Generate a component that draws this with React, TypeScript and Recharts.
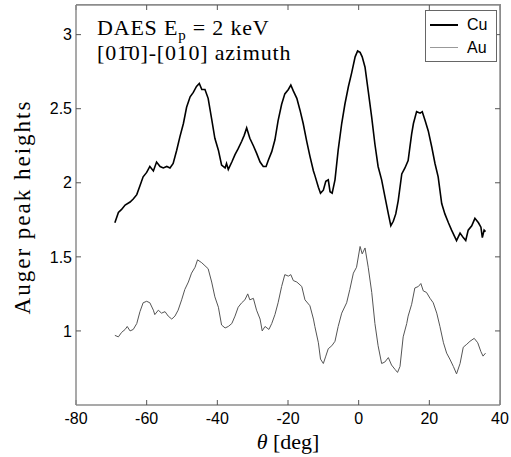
import { LineChart, Line, XAxis, YAxis } from "recharts";

const cuTheta = [
  -69.0, -68.0, -67.1, -66.1, -64.7, -63.8, -62.8, -61.9, -61.0, -60.0, -59.1, -58.1, -57.2, -56.2,
  -55.3, -54.3, -53.4, -52.5, -51.5, -50.6, -49.6, -48.7, -47.7, -46.8, -45.9, -45.1, -44.4, -43.5,
  -42.6, -41.6, -40.7, -39.7, -38.8, -37.8, -37.4, -36.9, -35.9, -35.0, -34.1, -33.1, -32.4, -31.7,
  -30.8, -29.8, -28.9, -27.9, -27.0, -26.2, -25.6, -24.6, -23.7, -22.8, -21.8, -20.9, -19.9, -19.2,
  -18.5, -17.5, -16.6, -15.7, -14.7, -13.8, -12.8, -12.4, -11.4, -10.8, -10.0, -9.3, -8.6, -8.1,
  -7.5, -6.7, -5.8, -4.8, -3.9, -2.9, -2.0, -1.0, -0.3, 0.4, 1.0, 1.8, 2.7, 3.7, 4.6, 5.5, 6.5, 7.4,
  8.4, 9.1, 9.8, 10.5, 11.2, 12.2, 13.1, 14.0, 14.5, 15.0, 15.5, 16.4, 17.4, 18.0, 18.8, 19.7, 20.7,
  21.6, 22.5, 23.5, 24.4, 25.4, 26.3, 27.7, 28.7, 29.6, 30.3, 31.0, 32.0, 32.9, 33.9, 34.6, 35.0,
  35.5, 35.9,
];
const cuHeight = [
  1.73, 1.8, 1.82, 1.85, 1.87, 1.89, 1.92, 1.98, 2.04, 2.07, 2.11, 2.08, 2.14, 2.11,
  2.1, 2.11, 2.1, 2.13, 2.22, 2.31, 2.4, 2.51, 2.58, 2.61, 2.65, 2.67, 2.63, 2.63,
  2.57, 2.43, 2.3, 2.22, 2.12, 2.1, 2.13, 2.09, 2.14, 2.19, 2.23, 2.28, 2.32, 2.37,
  2.3, 2.25, 2.2, 2.14, 2.11, 2.11, 2.15, 2.21, 2.29, 2.42, 2.53, 2.6, 2.63, 2.66,
  2.62, 2.57, 2.49, 2.4, 2.28, 2.18, 2.08, 2.05, 1.97, 1.93, 1.95, 2.01, 2.02, 1.94,
  1.93, 2.02, 2.22, 2.4, 2.53, 2.65, 2.74, 2.85, 2.89, 2.88, 2.85, 2.78, 2.62, 2.44, 2.26, 2.11, 2.02, 1.91,
  1.79, 1.71, 1.74, 1.79, 1.88, 2.06, 2.1, 2.15, 2.24, 2.33, 2.4, 2.48, 2.47, 2.48, 2.42, 2.35, 2.24,
  2.13, 2.04, 1.86, 1.79, 1.73, 1.68, 1.61, 1.66, 1.63, 1.61, 1.68, 1.71, 1.76, 1.73, 1.7, 1.63,
  1.68, 1.67,
];

const auTheta = [
  -69.0, -68.0, -67.1, -66.1, -65.5, -64.7, -63.8, -62.8, -61.9, -61.0, -60.0, -59.1, -58.1, -57.7,
  -56.7, -55.8, -54.8, -53.9, -52.9, -52.0, -51.1, -50.1, -49.2, -48.2, -47.3, -46.3, -45.6, -44.4,
  -43.5, -42.6, -41.6, -40.7, -39.7, -38.8, -37.8, -36.9, -35.9, -35.0, -34.1, -33.1, -32.2, -31.4,
  -30.8, -29.8, -28.9, -27.9, -27.3, -26.5, -25.4, -24.6, -23.7, -22.8, -21.8, -20.9, -19.9, -19.2,
  -18.5, -17.5, -16.1, -15.2, -13.8, -12.8, -12.4, -11.4, -10.8, -10.0, -9.3, -8.6, -7.6, -6.7,
  -5.8, -4.8, -3.4, -2.5, -1.5, -0.6, 0.4, 1.0, 1.8, 2.7, 3.7, 4.6, 5.5, 6.5, 7.4, 8.4, 9.3, 10.3,
  11.0, 11.7, 12.6, 13.6, 14.0, 15.0, 15.9, 16.9, 17.6, 18.3, 19.2, 20.2, 21.1, 22.1, 23.0, 24.0,
  24.9, 25.8, 26.8, 27.7, 28.7, 29.6, 30.6, 31.5, 32.7, 33.7, 34.6, 35.2, 35.9,
];
const auHeight = [
  0.97, 0.96, 0.99, 1.01, 1.03, 1.0, 1.01, 1.05, 1.13, 1.19, 1.2, 1.19, 1.14, 1.11,
  1.14, 1.12, 1.13, 1.1, 1.08, 1.1, 1.14, 1.21, 1.28, 1.33, 1.39, 1.43, 1.48, 1.46,
  1.44, 1.42, 1.33, 1.23, 1.16, 1.04, 1.02, 1.03, 1.05, 1.1, 1.16, 1.19, 1.21, 1.25,
  1.21, 1.22, 1.14, 1.08, 1.0, 1.03, 1.01, 1.05, 1.11, 1.19, 1.3, 1.38, 1.37, 1.38,
  1.34, 1.33, 1.3, 1.21, 1.17, 1.08, 1.03, 0.92, 0.81, 0.78, 0.83, 0.88, 0.9, 0.93,
  1.03, 1.12, 1.19, 1.28, 1.39, 1.43, 1.57, 1.52, 1.56, 1.43, 1.26, 1.05, 0.9, 0.78, 0.79, 0.82, 0.77, 0.74,
  0.72, 0.76, 0.96, 1.05, 1.1, 1.18, 1.29, 1.3, 1.32, 1.27, 1.26, 1.22, 1.19, 1.12, 1.03, 0.92,
  0.85, 0.81, 0.76, 0.71, 0.78, 0.89, 0.91, 0.93, 0.95, 0.92, 0.86, 0.83, 0.85,
];

const xTicks = [-80, -60, -40, -20, 0, 20, 40];
const yTicks = [1, 1.5, 2, 2.5, 3];
const xDomain = [-80, 40];
const yDomain = [0.5, 3.2];
const legendNames = ["Cu", "Au"];
const legendColors = ["#000", "#999"];

const cuData = cuTheta.map((t, i) => ({ theta: t, h: cuHeight[i] }));
const auData = auTheta.map((t, i) => ({ theta: t, h: auHeight[i] }));

const sans = '"Liberation Sans", Arial, sans-serif';
const serif = '"Liberation Serif", "Times New Roman", serif';
const tickFont = { fontFamily: sans, fontSize: 16, fill: "#000" };
const frame = "#8c8c8c";

// top / right axes: tick marks only, no labels
const NoLabel = () => <g />;

const Title = (props: any) => {
  const x = props.viewBox.x + 21;
  const y = props.viewBox.y + props.viewBox.height;
  return (
    <g fontFamily={serif} fontSize={22} fill="#000" letterSpacing={0.8}>
      <text x={x} y={y + 30}>
        DAES E<tspan fontSize={15} dy={5}>p</tspan>
        <tspan dy={-5}> = 2 keV</tspan>
      </text>
      <text x={x} y={y + 55}>
        {"[01\u03040]-[010] azimuth"}
      </text>
    </g>
  );
};

const XLabel = (props: any) => {
  const { x, y, width } = props.viewBox;
  return (
    <text x={x + width / 2} y={y + 44} textAnchor="middle" fontFamily={serif} fontSize={22}>
      <tspan fontStyle="italic">θ</tspan> [deg]
    </text>
  );
};

const YLabel = (props: any) => {
  const { y, height } = props.viewBox;
  const cx = 22;
  const cy = y + height / 2 + 2;
  return (
    <text
      x={cx}
      y={cy}
      transform={`rotate(-90 ${cx} ${cy})`}
      textAnchor="middle"
      dominantBaseline="central"
      fontFamily={serif}
      fontSize={23}
      letterSpacing={2}
    >
      Auger peak heights
    </text>
  );
};

const LegendBox = () => (
  <div
    style={{
      position: "absolute",
      top: 10,
      left: 425,
      border: "1px solid #666",
      background: "#fff",
      padding: "2px 4px",
      fontFamily: sans,
      fontSize: 16,
      width: 62,
    }}
  >
    {legendNames.map((name, i) => (
      <div key={name} style={{ display: "flex", alignItems: "center", height: 23 }}>
        <span
          style={{
            display: "inline-block",
            width: 28,
            borderTop: `${i === 0 ? 2 : 1.5}px solid ${legendColors[i]}`,
            marginRight: 9,
          }}
        />
        <span>{name}</span>
      </div>
    ))}
  </div>
);

export default function App() {
  return (
    <div style={{ position: "absolute", left: 0, top: 0, width: 511, height: 457, background: "#fff" }}>
      <LineChart width={511} height={457} margin={{ top: 0, right: 6, bottom: 0, left: 0 }}>
        <XAxis
          xAxisId="b"
          type="number"
          dataKey="theta"
          domain={xDomain}
          ticks={xTicks}
          height={52}
          tickSize={-5}
          tickMargin={13}
          tick={tickFont}
          axisLine={{ stroke: frame, strokeWidth: 1.5 }}
          tickLine={{ stroke: "#555" }}
          label={XLabel}
        />
        <XAxis
          xAxisId="t"
          orientation="top"
          type="number"
          dataKey="theta"
          domain={xDomain}
          ticks={xTicks}
          height={5}
          tickSize={-5}
          tick={NoLabel}
          axisLine={{ stroke: frame, strokeWidth: 1.5 }}
          tickLine={{ stroke: "#555" }}
          label={Title}
        />
        <YAxis
          yAxisId="l"
          type="number"
          domain={yDomain}
          ticks={yTicks}
          width={76}
          tickSize={-5}
          tickMargin={9}
          tick={tickFont}
          axisLine={{ stroke: frame, strokeWidth: 1.5 }}
          tickLine={{ stroke: "#555" }}
          label={YLabel}
        />
        <YAxis
          yAxisId="r"
          orientation="right"
          type="number"
          domain={yDomain}
          ticks={yTicks}
          width={5}
          tickSize={-5}
          tick={NoLabel}
          axisLine={{ stroke: frame, strokeWidth: 1.5 }}
          tickLine={{ stroke: "#555" }}
        />
        <Line
          xAxisId="b"
          yAxisId="l"
          data={cuData}
          dataKey="h"
          name="Cu"
          type="linear"
          stroke="#000"
          strokeWidth={1.6}
          dot={false}
          isAnimationActive={false}
        />
        <Line
          xAxisId="t"
          yAxisId="r"
          data={auData}
          dataKey="h"
          name="Au"
          type="linear"
          stroke="#555"
          strokeWidth={1}
          dot={false}
          isAnimationActive={false}
        />
      </LineChart>
      {/* top and right edges of the axes box */}
      <div
        style={{
          position: "absolute",
          left: 76,
          top: 4.25,
          width: 424.75,
          height: 401,
          boxSizing: "border-box",
          borderTop: `1.5px solid ${frame}`,
          borderRight: `1.5px solid ${frame}`,
          pointerEvents: "none",
        }}
      />
      <LegendBox />
    </div>
  );
}
